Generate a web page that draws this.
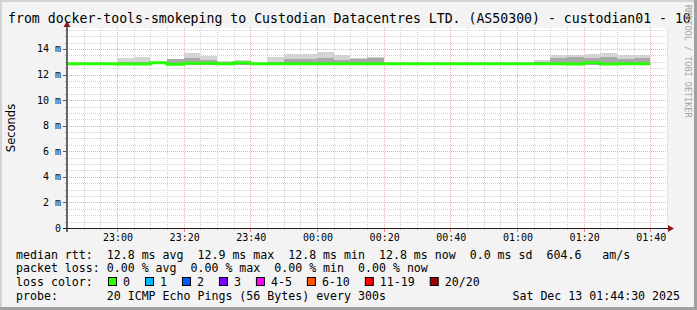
<!DOCTYPE html>
<html>
<head>
<meta charset="utf-8">
<script src="https://cdn.jsdelivr.net/npm/d3@7"></script>
<style>
  body { margin: 0; background: #f3f3f3; }
  svg text { font-family: 'DejaVu Sans Mono', monospace; white-space: pre; }
</style>
</head>
<body>
<div class="canvas"></div>
<script>
// one value per 5 minute step, starting 22:45 UTC
const stepStart = Date.UTC(2025, 11, 12, 22, 45)
const stepSeconds = 300

// median rtt in ms
const median = [
  12.85, 12.85, 12.85, 12.83, 12.82, 12.92, 12.80, 12.88, 12.88, 12.84,
  12.92, 12.85, 12.85, 12.85, 12.85, 12.85, 12.85, 12.85, 12.85, 12.85,
  12.85, 12.85, 12.85, 12.85, 12.85, 12.85, 12.85, 12.85, 12.85, 12.85,
  12.82, 12.93, 12.83, 12.85, 12.85,
]
// smoke: lowest ping, upper edge of the dense part, highest ping (ms)
const smokeLow = [
  null, null, null, 12.74, 12.74, null, 12.74, 12.76, 12.76, 12.74,
  12.76, null, 12.74, 12.74, 12.74, 12.74, 12.74, 12.74, 12.74, null,
  null, null, null, null, null, null, null, null, 12.74, 12.74,
  12.74, 12.76, 12.74, 12.74, 12.74,
]
const smokeHigh = [
  null, null, null, 13.02, 13.02, null, 13.21, 13.30, 13.10, 13.00,
  13.00, null, 13.00, 13.18, 13.22, 13.28, 13.10, 13.25, 13.30, null,
  null, null, null, null, null, null, null, null, 13.00, 13.30,
  13.35, 13.30, 13.40, 13.20, 13.30,
]
const smokeMax = [
  null, null, null, 13.29, 13.34, null, 13.21, 13.71, 13.42, 13.08,
  13.16, null, 13.34, 13.63, 13.63, 13.78, 13.50, 13.29, 13.37, null,
  null, null, null, null, null, null, null, null, 13.16, 13.55,
  13.55, 13.60, 13.65, 13.55, 13.55,
]

const yTickLabels = ['0', '2 m', '4 m', '6 m', '8 m', '10 m', '12 m', '14 m']

const lossLabels = ['0', '1', '2', '3', '4-5', '6-10', '11-19', '20/20']
const lossColors = ['#26ff00', '#00b8ff', '#0059ff', '#7e00ff', '#ff00ff', '#ff5500', '#ff0000', '#a10000']

const title = 'from docker-tools-smokeping to Custodian Datacentres LTD. (AS50300) - custodian01 - 10'
const statLines = [
  'median rtt:  12.8 ms avg  12.9 ms max  12.8 ms min  12.8 ms now  0.0 ms sd  604.6   am/s',
  'packet loss: 0.00 % avg  0.00 % max  0.00 % min  0.00 % now',
]
const probeText = 'probe:       20 ICMP Echo Pings (56 Bytes) every 300s'
const stampText = 'Sat Dec 13 01:44:30 2025'

const dims = { width: 697, height: 310 }
const plot = { left: 67, right: 667, top: 28, bottom: 228 }

const svg = d3
  .select('.canvas')
  .append('svg')
  .attr('width', dims.width)
  .attr('height', dims.height)

// frame
svg.append('rect').attr('width', dims.width).attr('height', dims.height).attr('fill', '#f3f3f3')
svg.append('rect').attr('x', 0).attr('y', 0).attr('width', dims.width).attr('height', 2).attr('fill', '#d4d4d4')
svg.append('rect').attr('x', 0).attr('y', 0).attr('width', 2).attr('height', dims.height).attr('fill', '#d4d4d4')
svg.append('rect').attr('x', dims.width - 3).attr('y', 0).attr('width', 3).attr('height', dims.height).attr('fill', '#a0a0a0')
svg.append('rect').attr('x', 0).attr('y', dims.height - 3).attr('width', dims.width).attr('height', 3).attr('fill', '#a0a0a0')

const x = d3
  .scaleUtc()
  .domain([stepStart, Date.UTC(2025, 11, 13, 1, 45)])
  .range([plot.left, plot.right])

const y = d3
  .scaleLinear()
  .domain([0, 15.64])
  .range([plot.bottom, plot.top])

// plot background
svg
  .append('rect')
  .attr('x', plot.left)
  .attr('y', plot.top)
  .attr('width', plot.right - plot.left)
  .attr('height', plot.bottom - plot.top)
  .attr('fill', '#ffffff')

// grid
const grid = svg.append('g').attr('shape-rendering', 'crispEdges')
const minorX = x.ticks(d3.utcMinute.every(5))
const majorX = x.ticks(d3.utcMinute.every(20))
const minorY = d3.range(0.5, 15.64, 0.5).filter((v) => v % 2 !== 0)
const majorY = y.ticks(8).filter((v) => v > 0)

grid
  .selectAll('line.minx')
  .data(minorX.filter((t) => t.getUTCMinutes() % 20 !== 0))
  .enter()
  .append('line')
  .attr('x1', (d) => Math.round(x(d)) + 0.5)
  .attr('x2', (d) => Math.round(x(d)) + 0.5)
  .attr('y1', plot.top)
  .attr('y2', plot.bottom)
  .attr('stroke', '#d4d4d4')
  .attr('stroke-dasharray', '1,1')

grid
  .selectAll('line.miny')
  .data(minorY)
  .enter()
  .append('line')
  .attr('x1', plot.left)
  .attr('x2', plot.right)
  .attr('y1', (d) => Math.round(y(d)) + 0.5)
  .attr('y2', (d) => Math.round(y(d)) + 0.5)
  .attr('stroke', '#d4d4d4')
  .attr('stroke-dasharray', '1,1')

grid
  .selectAll('line.majx')
  .data(majorX)
  .enter()
  .append('line')
  .attr('x1', (d) => Math.round(x(d)) + 0.5)
  .attr('x2', (d) => Math.round(x(d)) + 0.5)
  .attr('y1', plot.top)
  .attr('y2', plot.bottom)
  .attr('stroke', '#f2a8a8')
  .attr('stroke-dasharray', '1,1')

grid
  .selectAll('line.majy')
  .data(majorY)
  .enter()
  .append('line')
  .attr('x1', plot.left)
  .attr('x2', plot.right)
  .attr('y1', (d) => Math.round(y(d)) + 0.5)
  .attr('y2', (d) => Math.round(y(d)) + 0.5)
  .attr('stroke', '#f2a8a8')
  .attr('stroke-dasharray', '1,1')

// smoke, one box per step
const steps = median.map((m, i) => ({
  t0: new Date(stepStart + i * stepSeconds * 1000),
  t1: new Date(stepStart + (i + 1) * stepSeconds * 1000),
  median: m,
  low: smokeLow[i],
  high: smokeHigh[i],
  max: smokeMax[i],
}))
const smoky = steps.filter((d) => d.max !== null)

const smoke = svg.append('g').attr('shape-rendering', 'crispEdges')
smoke
  .selectAll('rect.outer')
  .data(smoky)
  .enter()
  .append('rect')
  .attr('x', (d) => x(d.t0))
  .attr('width', (d) => x(d.t1) - x(d.t0))
  .attr('y', (d) => y(d.max))
  .attr('height', (d) => y(d.low) - y(d.max))
  .attr('fill', '#d4d4d4')

smoke
  .selectAll('rect.inner')
  .data(smoky)
  .enter()
  .append('rect')
  .attr('x', (d) => x(d.t0))
  .attr('width', (d) => x(d.t1) - x(d.t0))
  .attr('y', (d) => y(d.high))
  .attr('height', (d) => y(d.low) - y(d.high))
  .attr('fill', '#a8a8a8')

// median line (step)
const medianLine = d3
  .line()
  .x((d) => x(d.t))
  .y((d) => y(d.v))
  .curve(d3.curveStepAfter)

const medianPts = steps.map((d) => ({ t: d.t0, v: d.median }))
medianPts.push({ t: steps[steps.length - 1].t1, v: median[median.length - 1] })

svg
  .append('path')
  .attr('d', medianLine(medianPts))
  .attr('fill', 'none')
  .attr('stroke', lossColors[0])
  .attr('stroke-width', 3)

// axes
const axes = svg.append('g').attr('shape-rendering', 'crispEdges')
axes
  .selectAll('line.ytick')
  .data(d3.range(0, 15.64, 0.5))
  .enter()
  .append('line')
  .attr('x1', (d) => (d % 2 === 0 ? plot.left - 4 : plot.left - 2))
  .attr('x2', plot.left)
  .attr('y1', (d) => Math.round(y(d)) + 0.5)
  .attr('y2', (d) => Math.round(y(d)) + 0.5)
  .attr('stroke', (d) => (d % 2 === 0 ? '#555' : '#aaa'))

axes
  .selectAll('line.xtick')
  .data(minorX)
  .enter()
  .append('line')
  .attr('x1', (d) => Math.round(x(d)) + 0.5)
  .attr('x2', (d) => Math.round(x(d)) + 0.5)
  .attr('y1', plot.bottom)
  .attr('y2', (d) => (d.getUTCMinutes() % 20 === 0 ? plot.bottom + 4 : plot.bottom + 2))
  .attr('stroke', (d) => (d.getUTCMinutes() % 20 === 0 ? '#f08080' : '#bbb'))

axes
  .append('line')
  .attr('x1', plot.left)
  .attr('x2', plot.left)
  .attr('y1', plot.bottom + 4)
  .attr('y2', plot.top - 4)
  .attr('stroke', '#666')
  .attr('stroke-width', 2)

axes
  .append('line')
  .attr('x1', plot.left - 4)
  .attr('x2', plot.right + 2)
  .attr('y1', plot.bottom + 0.5)
  .attr('y2', plot.bottom + 0.5)
  .attr('stroke', '#222')

svg
  .append('path')
  .attr('d', `M${plot.left - 3.5},${plot.top - 1} L${plot.left},${plot.top - 7} L${plot.left + 3.5},${plot.top - 1} Z`)
  .attr('fill', '#8b1a1a')
svg
  .append('path')
  .attr('d', `M${plot.right + 1},${plot.bottom - 3} L${plot.right + 7},${plot.bottom + 0.5} L${plot.right + 1},${plot.bottom + 4} Z`)
  .attr('fill', '#8b1a1a')

// tick labels
svg
  .selectAll('text.ylab')
  .data(yTickLabels)
  .enter()
  .append('text')
  .attr('x', 61)
  .attr('y', (d, i) => y(i * 2) + 3.5)
  .attr('text-anchor', 'end')
  .attr('font-size', 10)
  .attr('fill', '#000')
  .text((d) => d)

const fmt = d3.utcFormat('%H:%M')
svg
  .selectAll('text.xlab')
  .data(majorX)
  .enter()
  .append('text')
  .attr('x', (d) => x(d) + 1)
  .attr('y', 241)
  .attr('text-anchor', 'middle')
  .attr('font-size', 10)
  .attr('fill', '#000')
  .text((d) => fmt(d))

// titles
svg
  .append('text')
  .attr('x', 8)
  .attr('y', 22.5)
  .attr('font-size', 13.2)
  .attr('fill', '#000')
  .text(title)

svg
  .append('text')
  .attr('transform', 'translate(14.5,128) rotate(-90)')
  .attr('text-anchor', 'middle')
  .attr('font-size', 11.5)
  .style('font-family', "'DejaVu Sans', sans-serif")
  .attr('fill', '#000')
  .text('Seconds')

svg
  .append('text')
  .attr('transform', 'translate(685,5) rotate(90)')
  .attr('font-size', 8.5)
  .attr('fill', '#a4a4a4')
  .text('RRDTOOL / TOBI OETIKER')

// legend lines
const legendFont = 11.6
const charW = legendFont * 0.602
statLines.forEach((s, i) => {
  svg
    .append('text')
    .attr('x', 16)
    .attr('y', 258.5 + i * 13.8)
    .attr('font-size', legendFont)
    .attr('fill', '#000')
    .text(s)
})

svg
  .append('text')
  .attr('x', 16)
  .attr('y', 286)
  .attr('font-size', legendFont)
  .attr('fill', '#000')
  .text('loss color:')

let lx = 108
lossLabels.forEach((lab, i) => {
  svg
    .append('rect')
    .attr('x', lx + 0.5)
    .attr('y', 277.5)
    .attr('width', 8)
    .attr('height', 8)
    .attr('fill', lossColors[i])
    .attr('stroke', '#000')
  svg
    .append('text')
    .attr('x', lx + 15)
    .attr('y', 286)
    .attr('font-size', legendFont)
    .attr('fill', '#000')
    .text(lab)
  lx += 30 + lab.length * charW
})

svg
  .append('text')
  .attr('x', 16)
  .attr('y', 299.8)
  .attr('font-size', legendFont)
  .attr('fill', '#000')
  .text(probeText)

svg
  .append('text')
  .attr('x', 680)
  .attr('y', 299.8)
  .attr('text-anchor', 'end')
  .attr('font-size', legendFont)
  .attr('fill', '#000')
  .text(stampText)
</script>
</body>
</html>
